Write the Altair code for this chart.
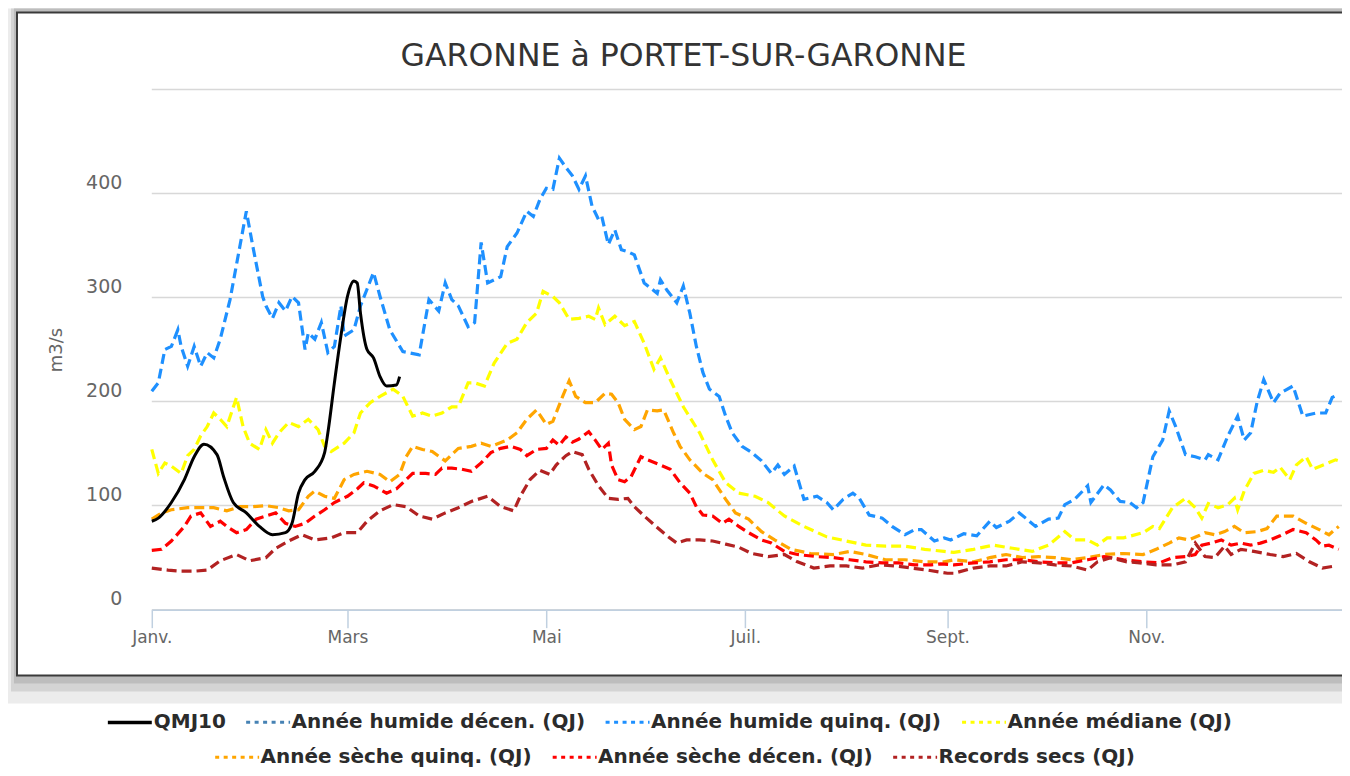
import altair as alt
import pandas as pd

# ---------------- data ----------------
SERIES_NAMES = [
    "QMJ10",
    "Année humide décen. (QJ)",
    "Année humide quinq. (QJ)",
    "Année médiane (QJ)",
    "Année sèche quinq. (QJ)",
    "Année sèche décen. (QJ)",
    "Records secs (QJ)",
]
SERIES_COLORS = ["#000000", "#4682B4", "#1E90FF", "#FFFF00", "#FFA500", "#FF0000", "#B22222"]

MONTH_TICK_DAYS = [0, 60, 121, 182, 244, 305]
MONTH_TICK_LABELS = ["Janv.", "Mars", "Mai", "Juil.", "Sept.", "Nov."]
Y_TICKS = [0, 100, 200, 300, 400, 500]

QMJ10_DAYS = [0, 2, 6, 10, 13, 16, 20, 22, 25, 29, 33, 37, 41, 43, 45, 47, 50, 53, 54, 56,
              58, 60, 62, 63, 64, 66, 68, 70, 72, 75, 76]
QMJ10_VALUES = [85, 88, 103, 125, 147, 159, 149, 128, 103, 93, 80, 72, 74, 83, 112, 125, 133, 151, 170, 218,
                263, 301, 316, 314, 285, 250, 242, 224, 215, 216, 224]

HUMIDE_DECEN_DAYS = []
HUMIDE_DECEN_VALUES = []

HUMIDE_QUINQ_DAYS = [0, 2, 4, 6, 8, 9, 11, 13, 15, 17, 19, 21, 24, 27, 29, 31, 34, 35, 37, 39,
                     41, 43, 45, 47, 48, 50, 52, 54, 56, 58, 59, 62, 64, 66, 68, 70, 73, 77, 82, 85,
                     88, 90, 92, 94, 97, 99, 101, 103, 107, 109, 112, 115, 117, 119, 121, 123, 125, 127, 129, 131,
                     133, 135, 137, 138, 140, 142, 144, 146, 148, 151, 155, 156, 158, 161, 163, 165, 167, 169, 171, 174,
                     176, 178, 181, 184, 187, 190, 192, 194, 197, 200, 204, 207, 209, 212, 215, 217, 220, 224, 227, 231,
                     234, 236, 240, 243, 245, 249, 253, 257, 259, 263, 266, 268, 271, 275, 278, 280, 283, 287, 288, 292,
                     294, 297, 300, 302, 304, 307, 310, 312, 314, 317, 320, 323, 324, 327, 330, 333, 335, 337, 339, 341,
                     344, 346, 350, 353, 357, 360, 362, 364]
HUMIDE_QUINQ_VALUES = [210, 218, 250, 253, 269, 253, 234, 253, 234, 247, 242, 260, 298, 349, 383, 349, 301, 292, 280, 295,
                       287, 301, 295, 250, 266, 260, 276, 247, 253, 292, 263, 269, 292, 308, 324, 301, 269, 248, 245, 298,
                       287, 314, 298, 292, 272, 276, 353, 314, 320, 349, 362, 383, 378, 394, 405, 404, 434, 425, 417, 404,
                       417, 388, 375, 378, 351, 365, 346, 344, 341, 314, 304, 317, 307, 295, 311, 285, 253, 228, 212, 205,
                       186, 170, 157, 151, 143, 131, 139, 130, 138, 106, 109, 103, 96, 106, 112, 107, 91, 88, 80, 72,
                       77, 77, 66, 69, 67, 73, 71, 85, 79, 85, 93, 88, 80, 87, 88, 101, 106, 119, 103, 120,
                       115, 104, 103, 98, 103, 147, 163, 191, 176, 149, 147, 144, 149, 144, 167, 186, 163, 170, 200, 221,
                       199, 208, 215, 186, 189, 189, 204, 207]

MEDIANE_DAYS = [0, 2, 4, 6, 9, 11, 13, 15, 17, 19, 21, 23, 26, 28, 30, 33, 35, 37, 39, 42,
                45, 48, 51, 53, 55, 59, 62, 64, 67, 70, 74, 77, 80, 83, 86, 89, 92, 94, 97, 99,
                102, 105, 109, 112, 115, 118, 120, 123, 125, 128, 131, 134, 136, 137, 139, 142, 145, 148, 151, 154,
                156, 159, 163, 168, 172, 176, 180, 185, 189, 194, 200, 207, 213, 219, 225, 231, 237, 243, 246, 252,
                258, 264, 270, 275, 280, 283, 287, 290, 293, 298, 304, 307, 309, 313, 317, 320, 322, 324, 327, 330,
                332, 333, 335, 338, 341, 344, 346, 349, 351, 354, 356, 360, 363, 364]
MEDIANE_VALUES = [154, 131, 141, 138, 131, 148, 154, 167, 176, 189, 183, 176, 204, 176, 160, 154, 173, 160, 170, 180,
                  176, 183, 173, 157, 152, 160, 170, 189, 199, 205, 212, 205, 186, 189, 186, 189, 195, 195, 218, 218,
                  215, 237, 256, 260, 276, 285, 306, 301, 295, 279, 280, 282, 279, 290, 274, 282, 273, 277, 256, 231,
                  242, 221, 195, 170, 144, 122, 112, 109, 103, 90, 80, 70, 66, 62, 61, 61, 58, 56, 55, 58,
                  62, 59, 56, 62, 75, 67, 67, 62, 69, 69, 74, 80, 78, 98, 107, 98, 88, 102, 98, 101,
                  107, 96, 114, 131, 134, 132, 137, 125, 139, 147, 135, 140, 144, 143]

SECHE_QUINQ_DAYS = [0, 3, 6, 11, 15, 19, 23, 27, 31, 35, 39, 42, 45, 48, 50, 53, 56, 59, 62, 66,
                    70, 73, 76, 78, 80, 83, 86, 90, 94, 98, 101, 104, 109, 112, 115, 118, 121, 123, 126, 128,
                    130, 133, 136, 139, 141, 143, 145, 148, 150, 152, 155, 157, 160, 162, 165, 169, 172, 176, 179, 183,
                    187, 191, 196, 202, 209, 214, 219, 225, 231, 237, 243, 246, 252, 257, 262, 267, 272, 277, 282, 287,
                    292, 298, 304, 308, 312, 315, 318, 321, 323, 326, 329, 332, 335, 339, 342, 345, 350, 354, 358, 361,
                    364]
SECHE_QUINQ_VALUES = [87, 93, 96, 98, 98, 98, 95, 99, 99, 100, 98, 95, 96, 109, 114, 109, 107, 125, 130, 133,
                      130, 123, 130, 147, 157, 154, 152, 143, 155, 157, 160, 157, 163, 170, 183, 192, 178, 181, 205, 220,
                      205, 199, 199, 208, 207, 199, 183, 173, 176, 192, 191, 192, 170, 157, 144, 131, 125, 106, 93, 87,
                      75, 67, 58, 54, 53, 56, 53, 48, 48, 46, 46, 48, 46, 50, 53, 50, 51, 50, 48, 50,
                      53, 54, 53, 58, 64, 69, 67, 71, 74, 72, 75, 80, 74, 75, 78, 90, 90, 83, 77, 72,
                      80]

SECHE_DECEN_DAYS = [0, 3, 6, 10, 12, 15, 18, 21, 23, 26, 29, 32, 35, 38, 41, 44, 47, 50, 53, 56,
                    60, 63, 65, 68, 72, 75, 78, 80, 84, 87, 89, 92, 95, 98, 101, 104, 107, 110, 113, 115,
                    118, 121, 123, 125, 127, 129, 131, 134, 136, 138, 140, 141, 143, 145, 147, 150, 152, 156, 159, 162,
                    165, 167, 169, 172, 175, 177, 180, 183, 187, 190, 194, 198, 204, 209, 214, 219, 224, 229, 234, 239,
                    242, 246, 252, 257, 262, 267, 272, 277, 282, 287, 292, 298, 304, 309, 313, 317, 320, 322, 325, 328,
                    331, 334, 337, 340, 343, 346, 350, 354, 357, 359, 361, 364]
SECHE_DECEN_VALUES = [57, 58, 66, 80, 90, 93, 80, 85, 80, 74, 77, 87, 90, 93, 83, 80, 83, 90, 96, 103,
                      109, 116, 122, 119, 112, 116, 125, 131, 131, 130, 136, 136, 135, 133, 141, 151, 155, 157, 154, 148,
                      154, 155, 163, 158, 166, 161, 164, 171, 163, 154, 160, 139, 125, 123, 128, 147, 144, 139, 135, 122,
                      112, 99, 91, 90, 83, 87, 80, 74, 67, 64, 56, 53, 51, 50, 48, 46, 45, 45, 43, 43,
                      44, 43, 45, 46, 48, 48, 46, 45, 45, 48, 51, 48, 46, 45, 50, 51, 53, 62, 64, 67,
                      62, 64, 62, 64, 67, 71, 77, 74, 67, 61, 62, 58]

RECORDS_SECS_DAYS = [0, 5, 9, 13, 17, 21, 26, 30, 35, 38, 42, 46, 50, 55, 59, 63, 66, 70, 74, 78,
                     82, 86, 90, 94, 98, 103, 107, 111, 113, 116, 119, 122, 124, 127, 129, 132, 134, 137, 140, 143,
                     146, 148, 151, 155, 158, 161, 164, 168, 172, 176, 180, 184, 189, 194, 198, 203, 208, 213, 218, 223,
                     228, 233, 238, 244, 246, 252, 257, 262, 267, 272, 277, 282, 287, 290, 294, 299, 303, 308, 313, 317,
                     320, 323, 326, 329, 331, 334, 338, 343, 347, 351, 355, 359, 363]
RECORDS_SECS_VALUES = [40, 38, 37, 37, 38, 47, 53, 47, 50, 59, 66, 72, 67, 69, 74, 74, 85, 95, 101, 99,
                       90, 87, 93, 98, 104, 109, 99, 95, 109, 125, 134, 130, 139, 148, 152, 149, 135, 119, 107, 106,
                       107, 99, 90, 79, 71, 64, 67, 67, 66, 63, 60, 54, 51, 53, 46, 40, 42, 42, 40, 43,
                       42, 40, 38, 35, 35, 40, 42, 42, 46, 45, 43, 42, 38, 46, 50, 46, 45, 43, 43, 46,
                       64, 51, 50, 61, 53, 58, 56, 53, 51, 54, 46, 40, 42]

SERIES_DATA = [
    (SERIES_NAMES[0], QMJ10_DAYS, QMJ10_VALUES),
    (SERIES_NAMES[1], HUMIDE_DECEN_DAYS, HUMIDE_DECEN_VALUES),
    (SERIES_NAMES[2], HUMIDE_QUINQ_DAYS, HUMIDE_QUINQ_VALUES),
    (SERIES_NAMES[3], MEDIANE_DAYS, MEDIANE_VALUES),
    (SERIES_NAMES[4], SECHE_QUINQ_DAYS, SECHE_QUINQ_VALUES),
    (SERIES_NAMES[5], SECHE_DECEN_DAYS, SECHE_DECEN_VALUES),
    (SERIES_NAMES[6], RECORDS_SECS_DAYS, RECORDS_SECS_VALUES),
]

rows = []
for name, days, values in SERIES_DATA:
    for d, v in zip(days, values):
        rows.append({"serie": name, "day": d, "value": v})
df = pd.DataFrame(rows)
grid_df = pd.DataFrame({"value": Y_TICKS})

# ---------------- layout ----------------
FONT = "DejaVu Sans"
PLOT_W = 1192
PLOT_H = 521

label_expr_x = " : ".join(
    f"datum.value == {d} ? '{lab}'" for d, lab in zip(MONTH_TICK_DAYS, MONTH_TICK_LABELS)
) + " : ''"

x_enc = alt.X(
    "day:Q",
    scale=alt.Scale(domain=[0, 365], nice=False, zero=False),
    axis=alt.Axis(
        values=MONTH_TICK_DAYS, labelExpr=label_expr_x, title=None, grid=False,
        domainColor="#C0D0E0", domainWidth=1.5, tickColor="#C0D0E0", tickWidth=1.5,
        tickSize=18, labelFont=FONT, labelFontSize=17, labelColor="#666666",
        labelPadding=2, labelFlush=False, labelOverlap=False, zindex=1,
    ),
)
y_enc = alt.Y(
    "value:Q",
    scale=alt.Scale(domain=[0, 500], nice=False),
    axis=alt.Axis(
        values=Y_TICKS, labelExpr="datum.value >= 500 ? '' : datum.label",
        title="m3/s", titleX=-95, titleY=PLOT_H / 2, titleAngle=270, titleAlign="center",
        titleBaseline="middle", titleFont=FONT, titleFontSize=18, titleFontWeight="normal",
        titleColor="#666666", grid=False,
        domain=False, ticks=False, labelPadding=30, labelFont=FONT, labelFontSize=19,
        labelColor="#666666", labelOffset=-11, labelBaseline="middle", zindex=1,
    ),
)

legend_common = dict(
    orient="none", direction="horizontal", title=None, labelFont=FONT, labelFontSize=20,
    labelFontWeight="bold", labelColor="#2b2b2b", symbolType="stroke", symbolSize=1936,
    labelOffset=0, columnPadding=14, padding=0, labelLimit=500,
)

ROW1 = SERIES_NAMES[1:4]
ROW2 = SERIES_NAMES[4:7]

one = pd.DataFrame({"k": [0]})


def deco(x, x2, y, y2, fill, stroke=None, sw=0):
    props = dict(fill=fill)
    if stroke:
        props.update(stroke=stroke, strokeWidth=sw)
    return alt.Chart(one).mark_rect(**props).encode(
        x=alt.value(x), x2=alt.value(x2), y=alt.value(y), y2=alt.value(y2)
    )


shadow1 = deco(-144, PLOT_W, -81, 615, "#ececec")
shadow2 = deco(-141, PLOT_W, -81, 603, "#d4d4d4")
shadow3 = deco(-138, PLOT_W, -81, 595, "#bdbdbd")
frame = deco(-135, PLOT_W + 10, -77, 587, "#ffffff", "#3a3a3a", 2)

gridlines = alt.Chart(grid_df).mark_rule(color="#D8D8D8", strokeWidth=1.5).encode(y=y_enc)

base = alt.Chart(df)

row1_lines = base.transform_filter(
    alt.FieldOneOfPredicate(field="serie", oneOf=ROW1)
).mark_line(strokeWidth=3.2, strokeDash=[10, 5]).encode(
    x=x_enc, y=y_enc,
    color=alt.Color(
        "serie:N",
        scale=alt.Scale(domain=ROW1, range=SERIES_COLORS[1:4]),
        legend=alt.Legend(legendX=93, legendY=610, symbolDash=[4, 4.5],
                          symbolStrokeWidth=3, **legend_common),
    ),
    detail="serie:N",
)

row2_lines = base.transform_filter(
    alt.FieldOneOfPredicate(field="serie", oneOf=ROW2)
).mark_line(strokeWidth=3.2, strokeDash=[10, 5]).encode(
    x=x_enc, y=y_enc,
    color=alt.Color(
        "serie:N",
        scale=alt.Scale(domain=ROW2, range=SERIES_COLORS[4:7]),
        legend=alt.Legend(legendX=62, legendY=645, symbolDash=[4, 4.5],
                          symbolStrokeWidth=3, **legend_common),
    ),
    detail="serie:N",
)

qmj_line = base.transform_filter(
    alt.datum.serie == SERIES_NAMES[0]
).mark_line(strokeWidth=3, interpolate="monotone").encode(
    x=x_enc, y=y_enc,
    color=alt.Color(
        "serie:N",
        scale=alt.Scale(domain=SERIES_NAMES[:1], range=SERIES_COLORS[:1]),
        legend=alt.Legend(legendX=-46, legendY=610, symbolStrokeWidth=3.5, **legend_common),
    ),
)

chart = alt.layer(
    shadow1, shadow2, shadow3, frame, gridlines, row1_lines, row2_lines, qmj_line
).resolve_scale(
    color="independent"
).properties(
    width=PLOT_W,
    height=PLOT_H,
    autosize=alt.AutoSizeParams(type="none"),
    padding={"left": 144, "top": 81, "right": 0, "bottom": 158},
    background="#ffffff",
    title=alt.TitleParams(
        text="GARONNE à PORTET-SUR-GARONNE", font=FONT, fontSize=31.6, fontWeight="normal",
        color="#333333", anchor="middle", frame="group", dx=-63.5, offset=-89,
        baseline="alphabetic", zindex=1,
    ),
).configure_view(strokeWidth=0)

chart.save("out.html", embed_options={"renderer": "svg", "actions": False})
